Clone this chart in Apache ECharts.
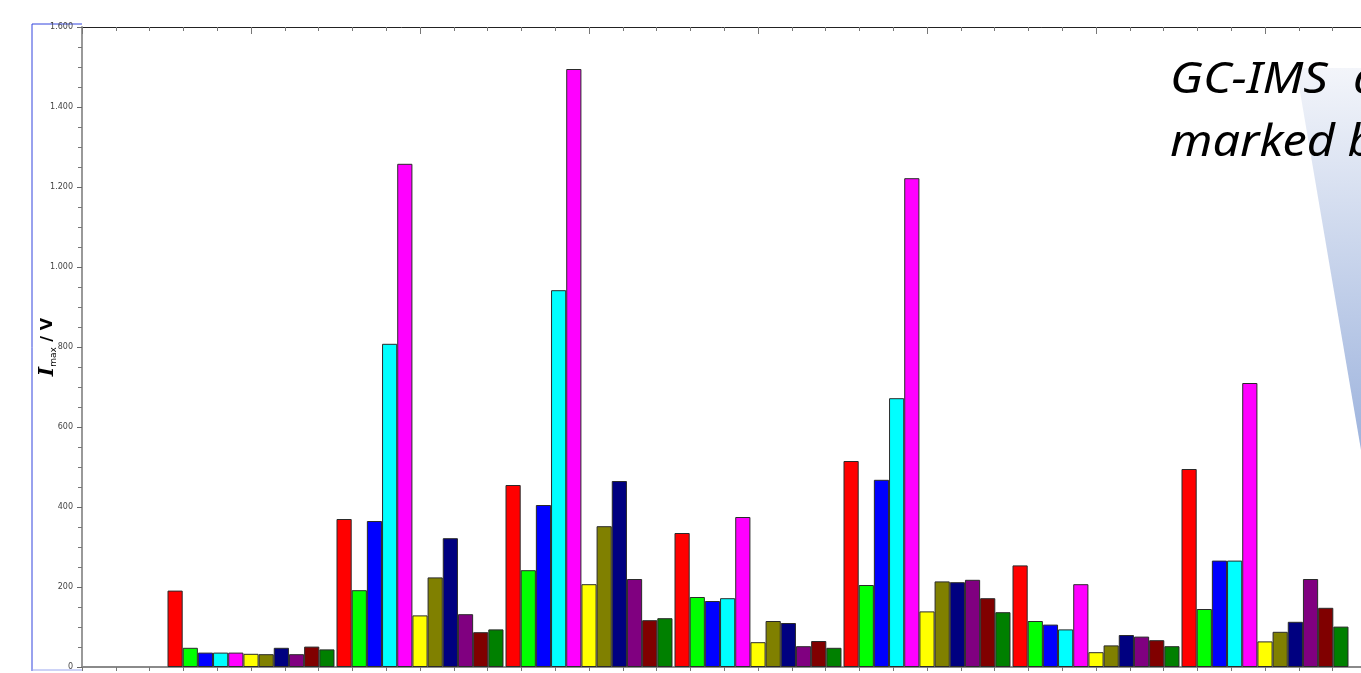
<!DOCTYPE html>
<html>
<head>
<meta charset="utf-8">
<script src="https://cdn.jsdelivr.net/npm/echarts@6/dist/echarts.min.js"></script>
<style>
  html, body { margin: 0; padding: 0; background: #fff; }
  #chart { width: 1361px; height: 673px; }
</style>
</head>
<body>
<div id="chart"></div>
<script>
// group positions on the x axis (one group of 11 bars per sample)
const groups = [1, 2, 3, 4, 5, 6, 7];

// I_max per colour, one value per group
const red     = [191, 370, 455, 335, 515, 254, 495];
const lime    = [48, 192, 242, 175, 205, 115, 145];
const blue    = [36, 365, 405, 165, 468, 106, 266];
const cyan    = [36, 808, 942, 172, 672, 94, 266];
const magenta = [36, 1258, 1495, 375, 1222, 207, 710];
const yellow  = [33, 129, 207, 62, 139, 37, 64];
const olive   = [32, 224, 352, 115, 214, 54, 88];
const navy    = [48, 322, 465, 110, 212, 80, 113];
const purple  = [32, 132, 220, 52, 218, 76, 220];
const maroon  = [51, 87, 117, 65, 172, 67, 148];
const green   = [44, 94, 122, 48, 137, 52, 101];

const yTicks = [0, 200, 400, 600, 800, 1000, 1200, 1400, 1600];

const seriesList = [
  ['red', red, '#ff0000'],
  ['lime', lime, '#00ff00'],
  ['blue', blue, '#0000ff'],
  ['cyan', cyan, '#00ffff'],
  ['magenta', magenta, '#ff00ff'],
  ['yellow', yellow, '#ffff00'],
  ['olive', olive, '#808000'],
  ['navy', navy, '#000080'],
  ['purple', purple, '#800080'],
  ['maroon', maroon, '#800000'],
  ['green', green, '#008000'],
];

// German thousands separator, e.g. 1.600
function fmt(v) {
  return String(v).replace(/\B(?=(\d{3})+(?!\d))/g, '.');
}

const chart = echarts.init(document.getElementById('chart'));

let option = {
  animation: false,
  grid: {
    left: 82,
    top: 27,
    width: 1352,
    bottom: 6,
    outerBoundsMode: 'none',
  },
  xAxis: [
    {
      type: 'value',
      position: 'bottom',
      min: 0,
      max: 8,
      interval: 1,
      axisLabel: { show: false },
      splitLine: { show: false },
      axisLine: { lineStyle: { color: '#8a8a8a', width: 2 } },
      axisTick: { show: true, inside: false, length: 4, lineStyle: { color: '#777' } },
      minorTick: { show: true, splitNumber: 5, length: 4, lineStyle: { color: '#777' } },
    },
    {
      type: 'value',
      position: 'top',
      min: 0,
      max: 8,
      interval: 1,
      axisLabel: { show: false },
      splitLine: { show: false },
      axisLine: { onZero: false, lineStyle: { color: '#222', width: 1 } },
      axisTick: { show: true, inside: true, length: 7, lineStyle: { color: '#777' } },
      minorTick: { show: true, splitNumber: 5, length: 4, lineStyle: { color: '#777' } },
    },
  ],
  yAxis: {
    type: 'value',
    min: yTicks[0],
    max: yTicks[yTicks.length - 1],
    interval: 200,
    splitLine: { show: false },
    axisLine: { show: true, lineStyle: { color: '#999', width: 2 } },
    axisTick: { show: true, length: 5, lineStyle: { color: '#666' } },
    minorTick: { show: true, splitNumber: 4, length: 4, lineStyle: { color: '#777' } },
    axisLabel: {
      margin: 9,
      fontSize: 8,
      fontFamily: 'DejaVu Sans',
      color: '#444',
      formatter: fmt,
    },
    name: '{i|I}{s|max}{v| / V}',
    nameLocation: 'middle',
    nameRotate: 90,
    nameGap: 24,
    nameMoveOverlap: false,
    nameTextStyle: {
      rich: {
        i: { fontFamily: 'DejaVu Serif', fontStyle: 'italic', fontWeight: 'bold', fontSize: 20, color: '#000' },
        s: { fontFamily: 'DejaVu Sans', fontSize: 9, color: '#000', verticalAlign: 'bottom', padding: [7, 0, 0, 0] },
        v: { fontFamily: 'DejaVu Sans', fontWeight: 'bold', fontSize: 16, color: '#000' },
      },
    },
  },
  series: seriesList.map(function (s) {
    return {
      name: s[0],
      type: 'bar',
      xAxisIndex: 0,
      barGap: '0%',
      barCategoryGap: '1.2%',
      itemStyle: { color: s[2], borderColor: '#2a2a2a', borderWidth: 1 },
      data: groups.map(function (g, i) { return [g, s[1][i]]; }),
    };
  }),
  graphic: [
    // slide selection frame at the left
    { type: 'line', shape: { x1: 32, y1: 24, x2: 32, y2: 671 }, style: { stroke: '#3344dd', lineWidth: 1 } },
    { type: 'line', shape: { x1: 32, y1: 24, x2: 82, y2: 24 }, style: { stroke: '#3344dd', lineWidth: 1 } },
    { type: 'line', shape: { x1: 32, y1: 670, x2: 82, y2: 670 }, style: { stroke: '#9aa6ee', lineWidth: 1 } },
    // callout wedge
    {
      type: 'polygon',
      z: 50,
      shape: { points: [[1296, 68], [1440, 68], [1361, 450]] },
      style: {
        fill: new echarts.graphic.LinearGradient(0, 0, 0, 1, [
          { offset: 0, color: '#f3f5fa' },
          { offset: 1, color: '#9db3dd' },
        ]),
      },
    },
    {
      type: 'text',
      z: 60,
      left: 1170,
      top: 49,
      scaleX: 1.13,
      style: {
        text: 'GC-IMS  analysis\nmarked by',
        font: 'italic 43px "Noto Sans"',
        lineHeight: 63,
        fill: '#000',
      },
    },
  ],
};

chart.setOption(option);
window.addEventListener('resize', () => {
  chart.resize();
});
</script>
</body>
</html>
